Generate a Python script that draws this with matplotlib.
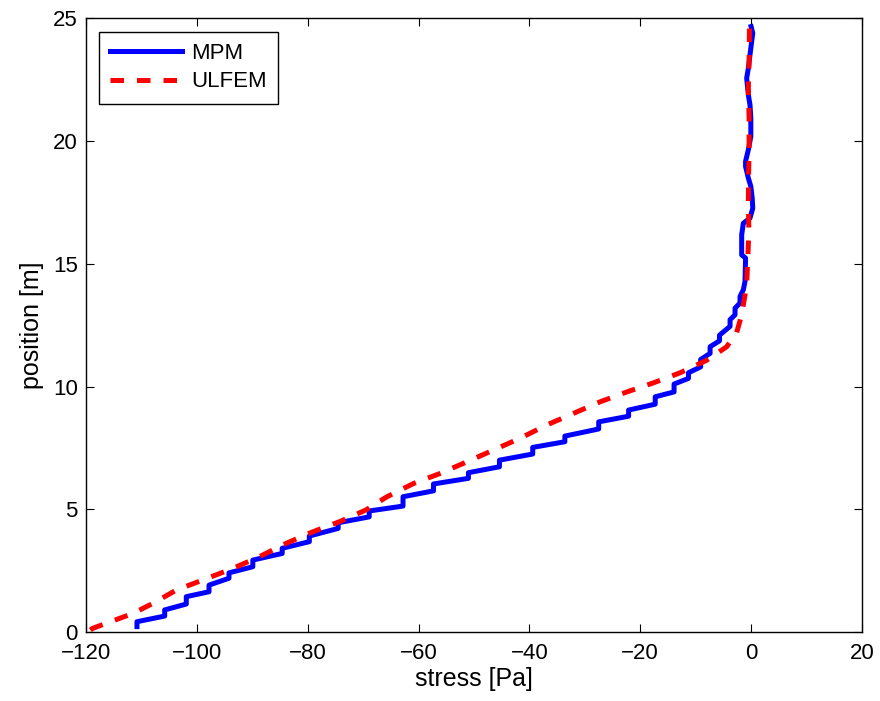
import matplotlib.pyplot as plt

plt.rcParams['font.family'] = ['Liberation Sans', 'DejaVu Sans']

# MPM stress profile (staircase)
mpm_stress = [-110.8, -110.8, -105.8, -105.8, -101.9, -101.9, -97.8, -97.8, -94.2, -94.2,
              -89.9, -89.9, -84.6, -84.6, -79.7, -79.7, -74.5, -74.5, -68.9, -68.9,
              -62.8, -62.8, -57.3, -57.3, -51.0, -51.0, -45.4, -45.4, -39.4, -39.4,
              -33.6, -33.6, -27.5, -27.5, -22.1, -22.1, -17.3, -17.3, -13.9, -13.9,
              -11.3, -11.3, -9.1, -9.1, -7.4, -7.4, -5.7, -5.7, -3.8, -3.8,
              -2.9, -2.9, -2.0, -2.0, -1.4, -1.1, -1.0, -1.7, -1.7, -1.4,
              -0.2, 0.3, 0.2, -0.05, -0.5, -1.0, -1.0, -0.5, -0.05, -0.05,
              -0.2, -0.5, -0.8, -0.5, -0.2, 0.1, 0.3, 0.0]
mpm_pos = [0.22, 0.42, 0.65, 0.90, 1.14, 1.44, 1.64, 1.91, 2.19, 2.41,
           2.66, 2.93, 3.20, 3.41, 3.68, 3.91, 4.22, 4.45, 4.69, 4.93,
           5.13, 5.51, 5.75, 6.03, 6.26, 6.49, 6.73, 7.00, 7.25, 7.52,
           7.75, 7.98, 8.27, 8.56, 8.79, 9.04, 9.28, 9.58, 9.78, 10.10,
           10.33, 10.56, 10.80, 11.10, 11.35, 11.62, 11.86, 12.09, 12.45, 12.72,
           12.92, 13.19, 13.40, 13.67, 13.94, 14.28, 15.23, 15.36, 16.18, 16.65,
           16.86, 17.26, 17.67, 18.15, 18.49, 18.96, 19.17, 19.64, 20.18, 20.93,
           21.47, 21.88, 22.56, 22.96, 23.51, 24.05, 24.39, 24.66]

# ULFEM stress profile
ulfem_stress = [-119.2, -118.8, -111.5, -107.9, -103.7, -98.9, -93.5, -88.7, -83.9, -79.1,
                -74.3, -69.5, -65.7, -60.9, -56.1, -51.3, -46.5, -41.7, -36.9, -32.1,
                -27.2, -22.4, -17.6, -12.8, -8.0, -4.4, -2.6, -1.7, -0.8, -0.6,
                -0.4, -0.5, -0.45, -0.36, -0.36, -0.5, -0.36, -0.3, -0.3]
ulfem_pos = [0.08, 0.15, 0.76, 1.17, 1.71, 2.12, 2.59, 3.07, 3.61, 4.08,
             4.49, 4.97, 5.51, 6.05, 6.46, 6.93, 7.41, 7.89, 8.43, 8.90,
             9.38, 9.78, 10.15, 10.56, 11.07, 11.62, 12.20, 12.92, 14.14, 15.23,
             16.31, 17.47, 18.62, 19.84, 20.93, 22.15, 23.24, 24.46, 24.84]

fig = plt.figure(figsize=(8.8, 7.01), dpi=100)
ax = fig.add_axes([0.0977, 0.0984, 0.8818, 0.8756])

ax.plot(mpm_stress, mpm_pos, color='#0000ff', lw=3.6, label='MPM')
ax.plot(ulfem_stress, ulfem_pos, color='#ff0000', lw=3.6, ls=(0, (2.7, 2.6)), label='ULFEM')

ax.set_xlim(-120, 20)
ax.set_ylim(0, 25)
ax.set_xticks(range(-120, 21, 20))
ax.set_yticks(range(0, 26, 5))
ax.tick_params(direction='in', top=True, right=True, labelsize=16, length=6, width=0.8)
ax.tick_params(axis='x', pad=8)
ax.tick_params(axis='y', pad=6)
for s in ax.spines.values():
    s.set_linewidth(1.0)

ax.set_xlabel('stress [Pa]', fontsize=18, labelpad=2)
ax.set_ylabel('position [m]', fontsize=18, labelpad=6)

leg = ax.legend(loc='upper left', fontsize=16, fancybox=False, edgecolor='black',
                framealpha=1, handlelength=3.2, handletextpad=0.45, labelspacing=0.35,
                borderpad=0.5, borderaxespad=0.6)
leg.get_frame().set_linewidth(1.0)

fig.savefig('out.png', dpi=100)
